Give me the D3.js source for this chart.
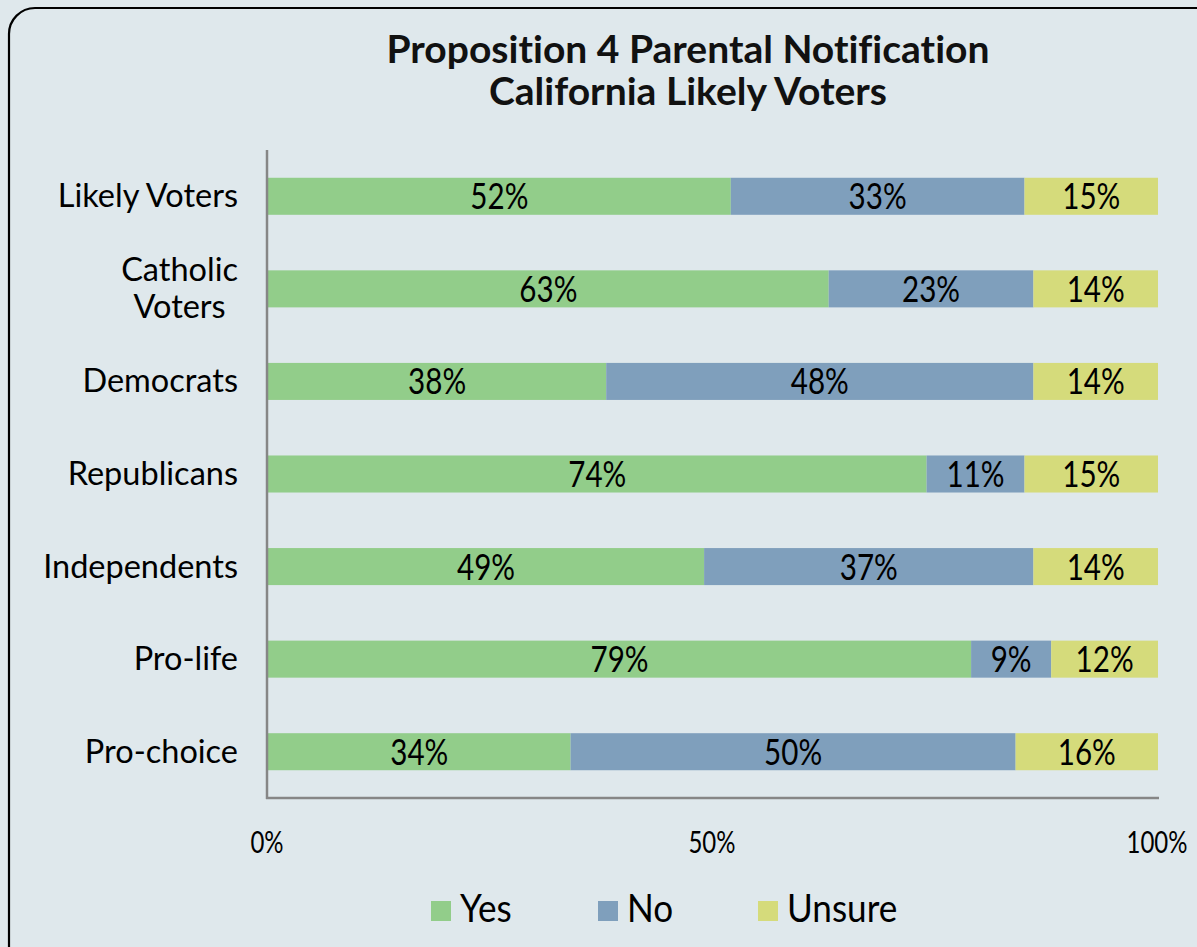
<!DOCTYPE html>
<html><head><meta charset="utf-8">
<script src="https://cdn.jsdelivr.net/npm/d3@7/dist/d3.min.js"></script>
<style>
html,body{margin:0;padding:0;background:#dfe8ec;}
svg{display:block;}
text{font-variant-ligatures:none;}
</style></head>
<body>
<svg id="chart" width="1197" height="947"></svg>
<script>
const categories = ["Likely Voters", "Catholic\nVoters", "Democrats", "Republicans", "Independents", "Pro-life", "Pro-choice"];
const seriesNames = ["Yes", "No", "Unsure"];
const yesValues = [52, 63, 38, 74, 49, 79, 34];
const noValues = [33, 23, 48, 11, 37, 9, 50];
const unsureValues = [15, 14, 14, 15, 14, 12, 16];
const tickValues = [0, 50, 100];
const tickLabels = ["0%", "50%", "100%"];
const colors = ["#92cd8a", "#7f9fbc", "#d5db7b"];

const svg = d3.select("#chart");
const W = 1197, H = 947;
const FONT = "Lato, 'Open Sans', sans-serif";

// horizontally condense a text element to match the narrow source face
function squeeze(sel, factor) {
  sel.each(function () {
    const w = this.getComputedTextLength();
    d3.select(this).attr("textLength", w * factor).attr("lengthAdjust", "spacingAndGlyphs");
  });
  return sel;
}

svg.append("rect").attr("width", W).attr("height", H).attr("fill", "#dfe8ec");
svg.append("rect").attr("x", 9).attr("y", 8).attr("width", W + 20).attr("height", H + 20)
  .attr("rx", 26).attr("ry", 26).attr("fill", "#dfe8ec").attr("stroke", "#000").attr("stroke-width", 2.2);

const t1 = svg.append("text").attr("x", 688).attr("y", 63).attr("text-anchor", "middle")
  .attr("font-family", FONT).attr("font-weight", "bold").attr("font-size", 38)
  .attr("fill", "#111").text("Proposition 4 Parental Notification");
const t2 = svg.append("text").attr("x", 688).attr("y", 105).attr("text-anchor", "middle")
  .attr("font-family", FONT).attr("font-weight", "bold").attr("font-size", 38)
  .attr("fill", "#111").text("California Likely Voters");
const tw = t1.node().getComputedTextLength();
const tf = 603 / tw;
squeeze(t1, tf); squeeze(t2, tf);

const x = d3.scaleLinear().domain([0, 100]).range([268, 1158]);
const y = d3.scaleBand().domain(d3.range(categories.length)).range([150, 798]).paddingInner(0.6).paddingOuter(0.3);

const rows = categories.map((c, i) => { const o = {}; seriesNames.forEach((s, k) => o[s] = [yesValues, noValues, unsureValues][k][i]); return o; });
const stacked = d3.stack().keys(seriesNames)(rows);

const g = svg.append("g");
stacked.forEach((layer, k) => {
  g.selectAll(null).data(layer).enter().append("rect")
    .attr("x", d => x(d[0])).attr("y", (d, i) => y(i))
    .attr("width", d => x(d[1]) - x(d[0])).attr("height", y.bandwidth()).attr("fill", colors[k]);
});
stacked.forEach((layer, k) => {
  const lbl = g.selectAll(null).data(layer).enter().append("text")
    .attr("x", d => (x(d[0]) + x(d[1])) / 2).attr("y", (d, i) => y(i) + y.bandwidth() / 2 + 13)
    .attr("text-anchor", "middle").attr("font-family", FONT).attr("font-size", 37)
    .attr("fill", "#000").text(d => d.data[seriesNames[k]] + "%");
  squeeze(lbl, 0.8);
});

// axes
svg.append("line").attr("x1", 267).attr("x2", 267).attr("y1", 150).attr("y2", 799).attr("stroke", "#868686").attr("stroke-width", 2.5);
svg.append("line").attr("x1", 266).attr("x2", 1159).attr("y1", 798).attr("y2", 798).attr("stroke", "#868686").attr("stroke-width", 2.5);

tickValues.forEach((t, i) => {
  const tt = svg.append("text").attr("x", x(t) - 1).attr("y", 853).attr("text-anchor", "middle")
    .attr("font-family", FONT).attr("font-size", 30).attr("fill", "#000").text(tickLabels[i]);
  squeeze(tt, 0.8);
});

categories.forEach((c, i) => {
  const lines = c.split("\n");
  const cy = y(i) + y.bandwidth() / 2;
  const lh = 37;
  const t = svg.append("text").attr("font-family", FONT).attr("font-size", 32.5).attr("fill", "#000");
  lines.forEach((ln, j) => {
    t.append("tspan").attr("x", 0).attr("y", cy + 11 + (j - (lines.length - 1) / 2) * lh).text(ln);
  });
  let maxW = 0;
  t.selectAll("tspan").each(function () { maxW = Math.max(maxW, this.getComputedTextLength()); });
  t.attr("text-anchor", "middle");
  t.selectAll("tspan").attr("x", 238 - maxW / 2);
});

// legend
const legX = [431, 598, 758];
seriesNames.forEach((s, k) => {
  svg.append("rect").attr("x", legX[k]).attr("y", 901).attr("width", 20).attr("height", 20).attr("fill", colors[k]);
  const lt = svg.append("text").attr("x", legX[k] + 29).attr("y", 922).attr("font-family", FONT)
    .attr("font-size", 39).attr("fill", "#000").text(s);
  squeeze(lt, 0.9);
});
</script>
</body></html>
